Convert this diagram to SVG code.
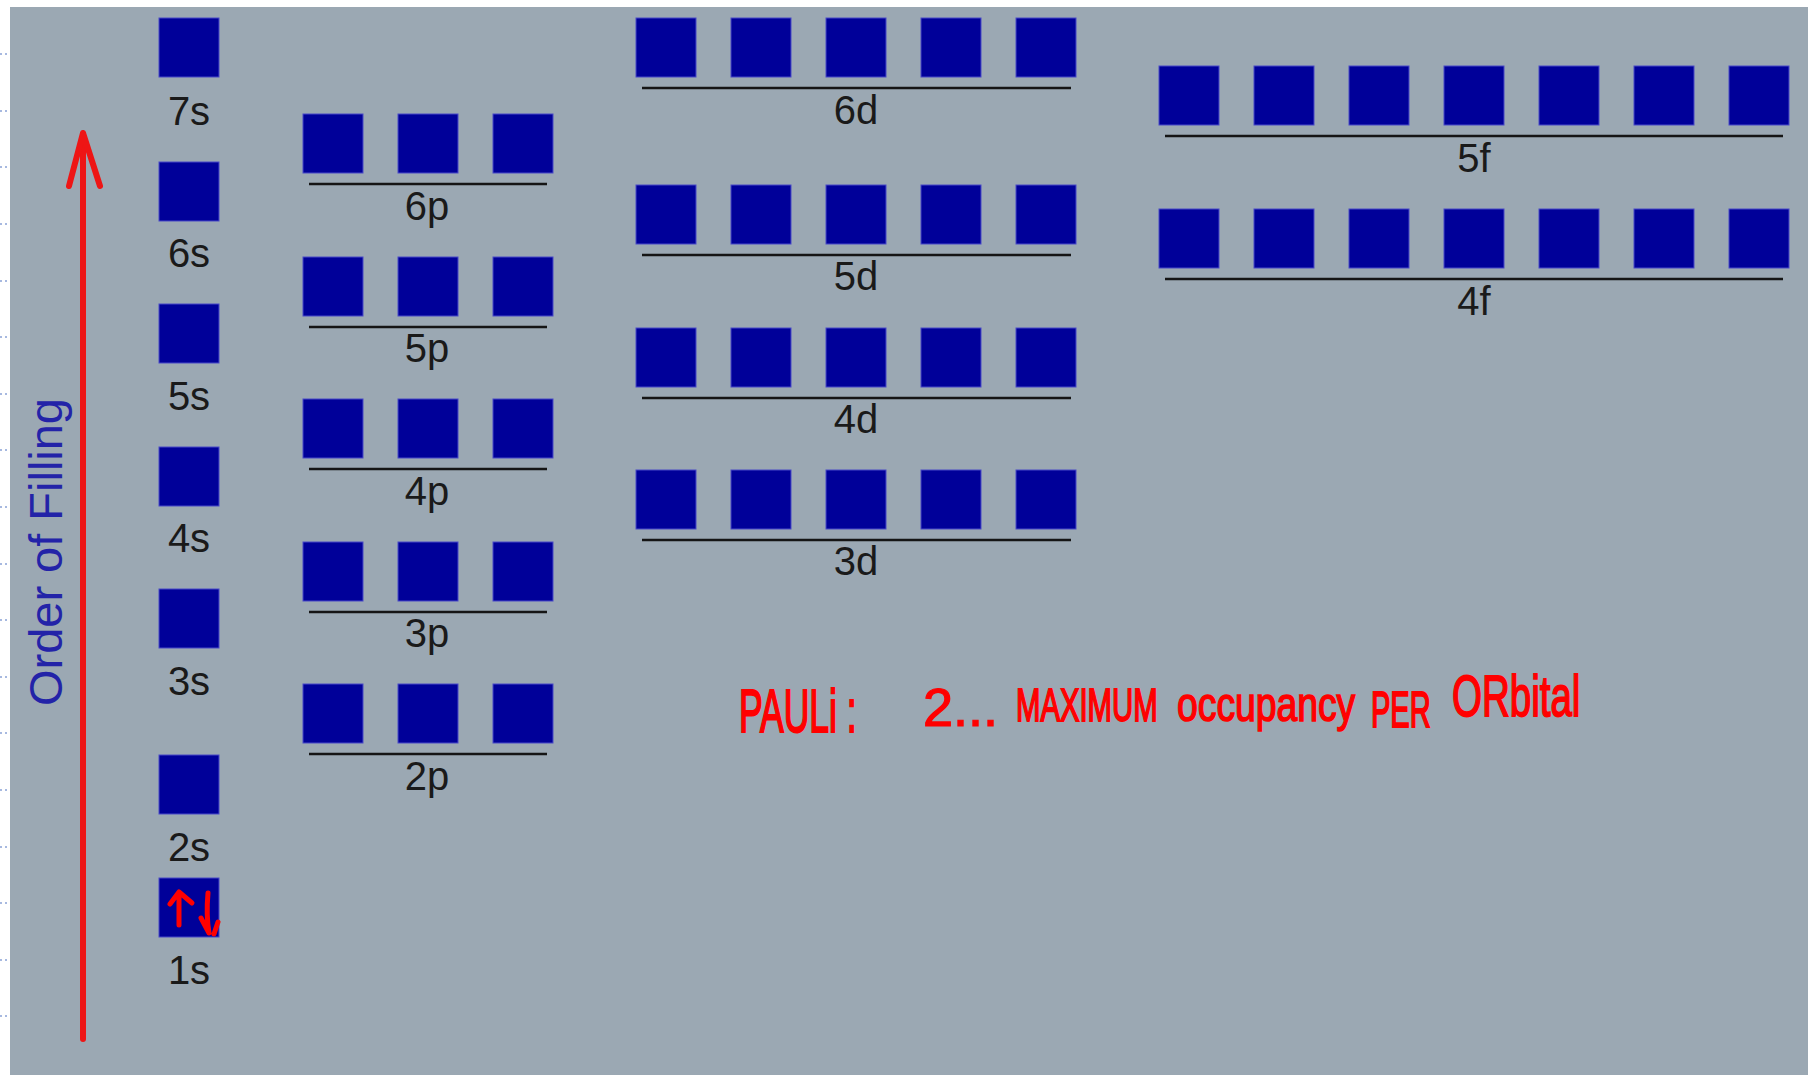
<svg xmlns="http://www.w3.org/2000/svg" width="1810" height="1075" viewBox="0 0 1810 1075">
<style>
.bx{fill:#000099;stroke:#4848c8;stroke-width:1}
.ln{stroke:#151515;stroke-width:2.5}
.lb{font-family:"Liberation Sans",Arial,sans-serif;font-size:40px;fill:#1a1a1a;text-anchor:middle}
.hw{font-family:"Liberation Sans",Arial,sans-serif;fill:#ff0000;stroke:#ff0000;stroke-width:1.2}
.tick{stroke:#8aa2d6;stroke-width:1.5;stroke-dasharray:2 3}
</style>
<defs>
<g id="b1"><rect class="bx" x="0" y="0" width="60" height="59"/></g>
<g id="b3"><use href="#b1"/><use href="#b1" x="95"/><use href="#b1" x="190"/><line class="ln" x1="6" y1="70" x2="244" y2="70"/></g>
<g id="b5"><use href="#b1"/><use href="#b1" x="95"/><use href="#b1" x="190"/><use href="#b1" x="285"/><use href="#b1" x="380"/><line class="ln" x1="6" y1="70" x2="435" y2="70"/></g>
<g id="b7"><use href="#b1"/><use href="#b1" x="95"/><use href="#b1" x="190"/><use href="#b1" x="285"/><use href="#b1" x="380"/><use href="#b1" x="475"/><use href="#b1" x="570"/><line class="ln" x1="6" y1="70" x2="624" y2="70"/></g>
</defs>
<rect x="0" y="0" width="1810" height="1075" fill="#ffffff"/>
<rect x="10" y="7" width="1798" height="1068" fill="#9ba8b3"/>
<g id="ticks">
<line class="tick" x1="0" y1="54" x2="9" y2="54"/><line class="tick" x1="0" y1="111" x2="9" y2="111"/><line class="tick" x1="0" y1="167" x2="9" y2="167"/><line class="tick" x1="0" y1="224" x2="9" y2="224"/><line class="tick" x1="0" y1="281" x2="9" y2="281"/><line class="tick" x1="0" y1="337" x2="9" y2="337"/><line class="tick" x1="0" y1="394" x2="9" y2="394"/><line class="tick" x1="0" y1="450" x2="9" y2="450"/><line class="tick" x1="0" y1="507" x2="9" y2="507"/><line class="tick" x1="0" y1="564" x2="9" y2="564"/><line class="tick" x1="0" y1="620" x2="9" y2="620"/><line class="tick" x1="0" y1="677" x2="9" y2="677"/><line class="tick" x1="0" y1="733" x2="9" y2="733"/><line class="tick" x1="0" y1="790" x2="9" y2="790"/><line class="tick" x1="0" y1="847" x2="9" y2="847"/><line class="tick" x1="0" y1="903" x2="9" y2="903"/><line class="tick" x1="0" y1="960" x2="9" y2="960"/><line class="tick" x1="0" y1="1016" x2="9" y2="1016"/>
</g>
<g id="connectors">
<line x1="83" y1="1039" x2="83" y2="134" stroke="#ee1515" stroke-width="6" stroke-linecap="round"/>
<polyline points="69,186 83,133 100,186" fill="none" stroke="#ee1515" stroke-width="6" stroke-linecap="round" stroke-linejoin="round"/>
</g>
<g id="axis-label"><text x="0" y="0" transform="translate(62,552) rotate(-90)" font-family="Liberation Sans,Arial,sans-serif" font-size="46" fill="#2323a8" text-anchor="middle" textLength="308" lengthAdjust="spacingAndGlyphs">Order of Filling</text></g>
<g id="s7"><use href="#b1" x="159" y="18"/><text class="lb" x="189" y="125">7s</text></g>
<g id="s6"><use href="#b1" x="159" y="162"/><text class="lb" x="189" y="267">6s</text></g>
<g id="s5"><use href="#b1" x="159" y="304"/><text class="lb" x="189" y="410">5s</text></g>
<g id="s4"><use href="#b1" x="159" y="447"/><text class="lb" x="189" y="552">4s</text></g>
<g id="s3"><use href="#b1" x="159" y="589"/><text class="lb" x="189" y="695">3s</text></g>
<g id="s2"><use href="#b1" x="159" y="755"/><text class="lb" x="189" y="861">2s</text></g>
<g id="s1"><use href="#b1" x="159" y="878"/><text class="lb" x="189" y="984">1s</text>
<path d="M179,925 L179,893 M170,904 L179,892 L192,903" fill="none" stroke="#ff0000" stroke-width="5" stroke-linecap="round" stroke-linejoin="round"/>
<path d="M208,893 Q206,915 209,933 M201,918 L209,933 M218,922 L214,934" fill="none" stroke="#ff0000" stroke-width="5" stroke-linecap="round" stroke-linejoin="round"/>
</g>
<g id="p6"><use href="#b3" x="303" y="114"/><text class="lb" x="427" y="220">6p</text></g>
<g id="p5"><use href="#b3" x="303" y="257"/><text class="lb" x="427" y="362">5p</text></g>
<g id="p4"><use href="#b3" x="303" y="399"/><text class="lb" x="427" y="505">4p</text></g>
<g id="p3"><use href="#b3" x="303" y="542"/><text class="lb" x="427" y="647">3p</text></g>
<g id="p2"><use href="#b3" x="303" y="684"/><text class="lb" x="427" y="790">2p</text></g>
<g id="d6"><use href="#b5" x="636" y="18"/><text class="lb" x="856" y="124">6d</text></g>
<g id="d5"><use href="#b5" x="636" y="185"/><text class="lb" x="856" y="290">5d</text></g>
<g id="d4"><use href="#b5" x="636" y="328"/><text class="lb" x="856" y="433">4d</text></g>
<g id="d3"><use href="#b5" x="636" y="470"/><text class="lb" x="856" y="575">3d</text></g>
<g id="f5"><use href="#b7" x="1159" y="66"/><text class="lb" x="1474" y="172">5f</text></g>
<g id="f4"><use href="#b7" x="1159" y="209"/><text class="lb" x="1474" y="315">4f</text></g>
<g id="pauli">
<text class="hw" transform="translate(739,732) scale(1,1.72)" font-size="35.5">PAULi :</text>
<text class="hw" x="923" y="726" font-size="54">2...</text>
<text class="hw" transform="translate(1016,721) scale(1,1.56)" font-size="29.3">MAXIMUM</text>
<text class="hw" transform="translate(1177,721) scale(1,1.28)" font-size="37.3">occupancy</text>
<text class="hw" transform="translate(1371,727) scale(1,1.71)" font-size="29">PER</text>
<text class="hw" transform="translate(1452,716) scale(1,1.5)" font-size="38.5">ORbital</text>
</g>
</svg>
